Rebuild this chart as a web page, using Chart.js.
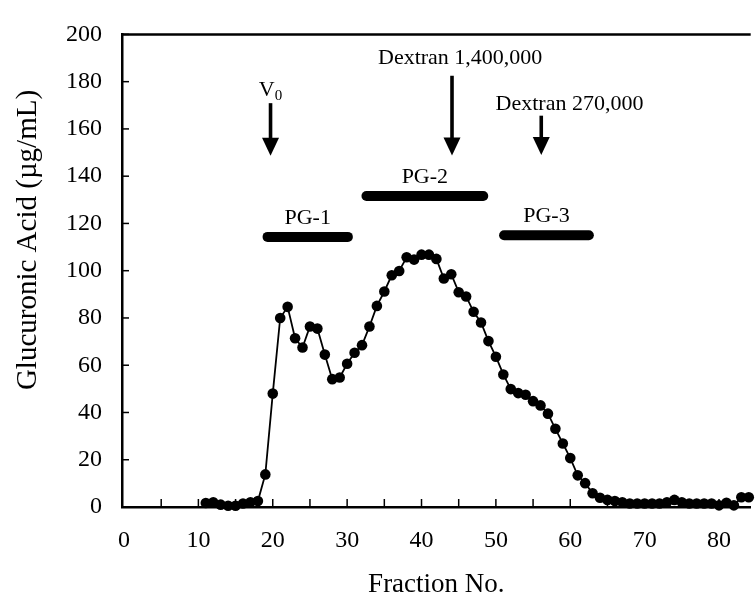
<!DOCTYPE html>
<html>
<head>
<meta charset="utf-8">
<title>Glucuronic Acid - Fraction No.</title>
<script src="https://cdn.jsdelivr.net/npm/chart.js@4.4.1/dist/chart.umd.min.js"></script>
<style>
    html, body { margin: 0; padding: 0; background: #fff; overflow: hidden; }
    #chart-box { width: 756px; height: 599px; }
</style>
</head>
<body>
<div id="chart-box"><canvas id="elutionChart" width="756" height="599"></canvas></div>
<script>
// Elution profile: glucuronic acid per fraction
const fractions = [
    11, 12, 13, 14, 15, 16, 17, 18, 19, 20,
    21, 22, 23, 24, 25, 26, 27, 28, 29, 30,
    31, 32, 33, 34, 35, 36, 37, 38, 39, 40,
    41, 42, 43, 44, 45, 46, 47, 48, 49, 50,
    51, 52, 53, 54, 55, 56, 57, 58, 59, 60,
    61, 62, 63, 64, 65, 66, 67, 68, 69, 70,
    71, 72, 73, 74, 75, 76, 77, 78, 79, 80,
    81, 82, 83, 84
];
const glucuronicAcid = [
    1.7, 2, 1, 0.5, 0.5, 1.5, 2, 2.5, 13.8, 48,
    80, 84.7, 71.4, 67.5, 76.4, 75.5, 64.5, 54.1, 54.8, 60.6,
    65.3, 68.5, 76.4, 85.1, 91.2, 98.1, 99.9, 105.7, 104.7, 106.8,
    106.8, 105, 96.7, 98.5, 90.9, 89.1, 82.6, 78.1, 70.2, 63.6,
    56.1, 49.9, 48.2, 47.5, 44.8, 43, 39.5, 33.1, 26.9, 20.7,
    13.4, 10.1, 5.8, 3.9, 3, 2.5, 2, 1.5, 1.5, 1.5,
    1.5, 1.5, 2, 3, 2, 1.5, 1.5, 1.5, 1.5, 0.7,
    1.8, 0.7, 4.1, 4.1
];

// Pooled fractions
const poolNames = ['PG-1', 'PG-2', 'PG-3'];
const poolFrom = [19.3, 32.6, 51.1];
const poolTo = [30.1, 48.3, 62.5];
const poolLevel = [114.3, 131.6, 115];

// Calibration markers (void volume and dextran standards)
const markerNames = ['V', 'Dextran 1,400,000', 'Dextran 270,000'];
const markerFraction = [19.7, 44.1, 56.1];

const xTicks = [0, 10, 20, 30, 40, 50, 60, 70, 80];
const yTicks = [0, 20, 40, 60, 80, 100, 120, 140, 160, 180, 200];

const serif = "'Liberation Serif', 'Times New Roman', serif";

// arrow top / tip and label anchor, in axis units
const markerLayout = [
    { top: 170.9, tip: 148.6, labelX: 19.2, labelY: 176.3, sub: '0' },
    { top: 182.5, tip: 148.8, labelX: 45.2, labelY: 189.8 },
    { top: 165.6, tip: 149.0, labelX: 59.9, labelY: 170.5 }
];

function drawArrow(ctx, px, yTop, yTip) {
    const headH = 18, headW = 17;
    ctx.fillRect(px - 1.8, yTop, 3.6, yTip - headH - yTop + 1);
    ctx.beginPath();
    ctx.moveTo(px - headW / 2, yTip - headH);
    ctx.lineTo(px + headW / 2, yTip - headH);
    ctx.lineTo(px, yTip);
    ctx.closePath();
    ctx.fill();
}

const frameAndNotes = {
    id: 'frameAndNotes',
    afterDraw(chart) {
        const { ctx, chartArea, scales } = chart;
        const x = scales.x, y = scales.y;
        ctx.save();
        ctx.strokeStyle = '#000';
        ctx.fillStyle = '#000';

        // top edge of the frame
        ctx.lineWidth = 2.5;
        ctx.beginPath();
        ctx.moveTo(chartArea.left - 1, chartArea.top);
        ctx.lineTo(chartArea.right, chartArea.top);
        ctx.stroke();

        // inward tick marks
        ctx.lineWidth = 1.5;
        y.ticks.forEach(t => {
            const py = y.getPixelForValue(t.value);
            ctx.beginPath();
            ctx.moveTo(chartArea.left, py);
            ctx.lineTo(chartArea.left + 7, py);
            ctx.stroke();
        });
        x.ticks.forEach(t => {
            if (t.value <= 0 || t.value % 5 !== 0) return;
            const px = x.getPixelForValue(t.value);
            ctx.beginPath();
            ctx.moveTo(px, chartArea.bottom);
            ctx.lineTo(px, chartArea.bottom - 8);
            ctx.stroke();
        });

        // y axis title
        ctx.save();
        ctx.translate(28, 240);
        ctx.rotate(-Math.PI / 2);
        ctx.font = `29px ${serif}`;
        ctx.textAlign = 'center';
        ctx.textBaseline = 'middle';
        ctx.fillText('Glucuronic Acid (\u00b5g/mL)', 0, 0);
        ctx.restore();

        // markers with arrows
        ctx.textAlign = 'center';
        ctx.textBaseline = 'middle';
        markerNames.forEach((name, i) => {
            const lay = markerLayout[i];
            const px = x.getPixelForValue(markerFraction[i]);
            drawArrow(ctx, px, y.getPixelForValue(lay.top), y.getPixelForValue(lay.tip));
            const lx = x.getPixelForValue(lay.labelX);
            const ly = y.getPixelForValue(lay.labelY);
            ctx.font = `22px ${serif}`;
            ctx.fillText(name, lx, ly);
            if (lay.sub) {
                const w = ctx.measureText(name).width;
                ctx.font = `15px ${serif}`;
                ctx.textAlign = 'left';
                ctx.fillText(lay.sub, lx + w / 2, ly + 6);
                ctx.textAlign = 'center';
            }
        });

        // pool names above their bars
        ctx.font = `22px ${serif}`;
        poolNames.forEach((name, i) => {
            const cx = x.getPixelForValue((poolFrom[i] + poolTo[i]) / 2);
            const cy = y.getPixelForValue(poolLevel[i]) - 19;
            ctx.fillText(name, cx, cy);
        });
        ctx.restore();
    }
};

const poolDatasets = poolNames.map((name, i) => ({
    label: name,
    data: [{ x: poolFrom[i], y: poolLevel[i] }, { x: poolTo[i], y: poolLevel[i] }],
    borderColor: '#000',
    borderWidth: 10,
    borderCapStyle: 'round',
    pointRadius: 0,
    clip: false
}));

const profileDataset = {
    label: 'Glucuronic Acid',
    data: fractions.map((f, i) => ({ x: f, y: glucuronicAcid[i] })),
    borderColor: '#000',
    borderWidth: 1.8,
    backgroundColor: '#000',
    pointRadius: 5.3,
    pointBorderWidth: 0,
    pointBackgroundColor: '#000',
    tension: 0,
    clip: false
};

const ctx = document.getElementById('elutionChart').getContext('2d');
new Chart(ctx, {
    type: 'line',
    data: { datasets: [profileDataset, ...poolDatasets] },
    options: {
        responsive: false,
        animation: false,
        events: [],
        layout: { padding: { top: 23, right: 0, bottom: 0, left: 0 } },
        plugins: { legend: { display: false }, tooltip: { enabled: false } },
        scales: {
            x: {
                type: 'linear',
                min: -0.27,
                max: 84.26,
                afterFit: scale => { scale.height = 92; },
                afterBuildTicks: scale => {
                    const extra = [5, 15, 25, 35, 45, 55, 65, 75];
                    scale.ticks = xTicks.concat(extra).sort((a, b) => a - b).map(v => ({ value: v }));
                },
                ticks: {
                    autoSkip: false,
                    maxRotation: 0,
                    padding: 19,
                    color: '#000',
                    font: { family: serif, size: 24 },
                    callback: v => (xTicks.includes(v) ? v : '')
                },
                grid: { display: false, drawTicks: false },
                border: { display: true, color: '#000', width: 2.5 },
                title: {
                    display: true,
                    text: 'Fraction No.',
                    color: '#000',
                    font: { family: serif, size: 27, lineHeight: 1 },
                    padding: { top: 0, bottom: 1 }
                }
            },
            y: {
                min: 0,
                max: 200,
                afterFit: scale => { scale.width = 122; },
                afterBuildTicks: scale => {
                    scale.ticks = yTicks.map(v => ({ value: v }));
                },
                ticks: {
                    padding: 20,
                    color: '#000',
                    font: { family: serif, size: 24 }
                },
                grid: { display: false, drawTicks: false },
                border: { display: true, color: '#000', width: 2.5 }
            }
        }
    },
    plugins: [frameAndNotes]
});
</script>
</body>
</html>
